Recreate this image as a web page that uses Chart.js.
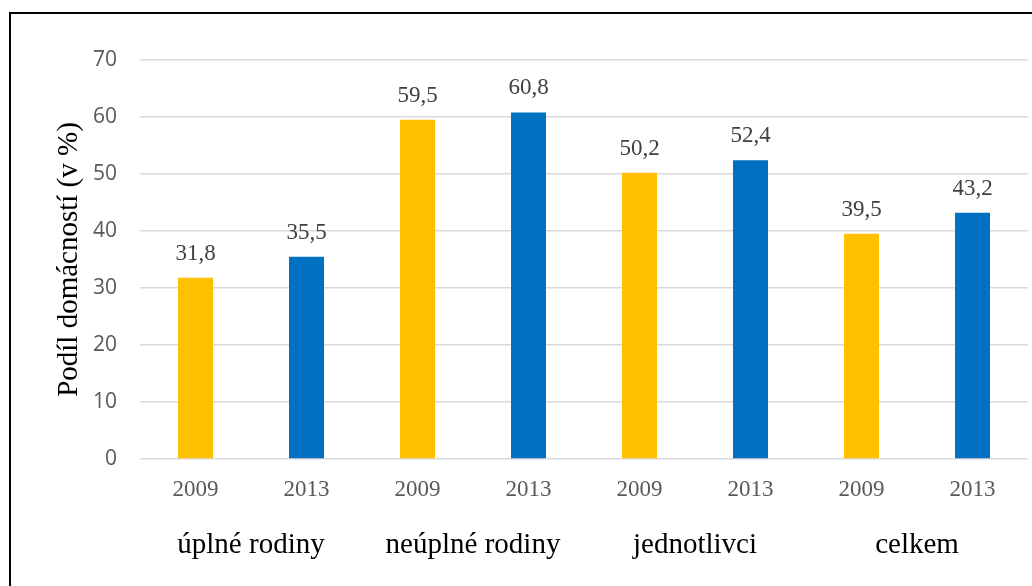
<!DOCTYPE html>
<html>
<head>
<meta charset="utf-8">
<script src="https://cdn.jsdelivr.net/npm/chart.js@4/dist/chart.umd.min.js"></script>
<style>
    html, body { margin: 0; padding: 0; background: #fff; overflow: hidden; }
    #wrap { position: relative; width: 1032px; height: 586px; }
    #frame { position: absolute; left: 9px; top: 12px; width: 1100px; height: 700px; border: 2px solid #000; box-sizing: border-box; }
    canvas { position: absolute; left: 0; top: 0; }
</style>
</head>
<body>
<div id="wrap">
    <div id="frame"></div>
    <canvas id="myChart" width="1032" height="586"></canvas>
</div>
<script>
const years = ["2009", "2013", "2009", "2013", "2009", "2013", "2009", "2013"];
const groups = ["úplné rodiny", "neúplné rodiny", "jednotlivci", "celkem"];
const shares = [31.8, 35.5, 59.5, 60.8, 50.2, 52.4, 39.5, 43.2];
const yTicks = [0, 10, 20, 30, 40, 50, 60, 70];
const yearColors = { "2009": "#FFC000", "2013": "#0070C0" };

// draws the value above each bar, with a decimal comma
const valueLabels = {
    id: "valueLabels",
    afterDatasetsDraw(chart) {
        const ctx = chart.ctx;
        const meta = chart.getDatasetMeta(0);
        ctx.save();
        ctx.font = "23px 'Liberation Serif'";
        ctx.fillStyle = "#404040";
        ctx.textAlign = "center";
        ctx.textBaseline = "middle";
        meta.data.forEach((bar, i) => {
            ctx.fillText(shares[i].toFixed(1).replace(".", ","), bar.x, bar.y - 24);
        });
        ctx.restore();
    }
};

const ctx = document.getElementById("myChart").getContext("2d");
const myChart = new Chart(ctx, {
    type: "bar",
    data: {
        labels: years,
        datasets: [{
            data: shares,
            backgroundColor: years.map(y => yearColors[y]),
            categoryPercentage: 1,
            barPercentage: 0.315
        }]
    },
    options: {
        responsive: false,
        animation: false,
        layout: { padding: { left: 0, right: 4, top: 60, bottom: 23 } },
        plugins: {
            legend: { display: false },
            tooltip: { enabled: false }
        },
        scales: {
            x: {
                position: "bottom",
                weight: 0,
                afterFit: s => { s.height = 44; },
                grid: { display: false, drawTicks: false },
                border: { display: false },
                ticks: {
                    color: "#595959",
                    font: { family: "'Liberation Serif'", size: 23 },
                    padding: 17,
                    maxRotation: 0,
                    autoSkip: false
                }
            },
            x2: {
                type: "category",
                position: "bottom",
                weight: 1,
                labels: groups,
                afterFit: s => { s.height = 60; },
                grid: { display: false, drawTicks: false },
                border: { display: false },
                ticks: {
                    color: "#000",
                    font: { family: "'Liberation Serif'", size: 29 },
                    padding: 25,
                    maxRotation: 0,
                    autoSkip: false
                }
            },
            y: {
                min: 0,
                max: 70,
                afterBuildTicks: s => { s.ticks = yTicks.map(v => ({ value: v })); },
                afterFit: s => { s.width = 140; },
                grid: { color: "#d9d9d9", lineWidth: 1.5, drawTicks: false },
                border: { display: false },
                ticks: {
                    color: "#595959",
                    font: { family: "'Open Sans'", size: 21 },
                    padding: 23
                },
                title: {
                    display: true,
                    text: "Podíl domácností (v %)",
                    color: "#000",
                    font: { family: "'Liberation Serif'", size: 29 },
                    padding: { top: 52, bottom: 0 }
                }
            }
        }
    },
    plugins: [valueLabels]
});
</script>
</body>
</html>
